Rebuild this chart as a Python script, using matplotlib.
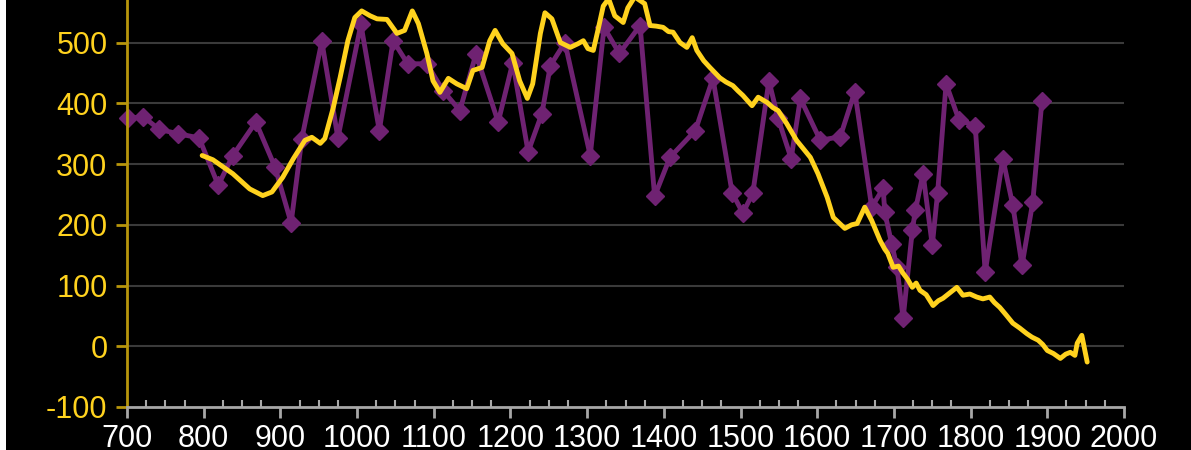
import matplotlib.pyplot as plt
from matplotlib.ticker import MultipleLocator
from matplotlib.patches import Rectangle

# purple series (markers)
purple_x = [701, 721, 742, 766, 794, 819, 838, 868, 893, 914, 928, 954, 975, 1005,
            1029, 1047, 1066, 1091, 1112, 1134, 1155, 1184, 1203, 1223, 1241, 1252,
            1271, 1304, 1322, 1342, 1369, 1388, 1408, 1441, 1464, 1489, 1503, 1516,
            1537, 1549, 1566, 1578, 1604, 1630, 1649, 1671, 1686, 1688, 1697, 1704,
            1712, 1724, 1728, 1738, 1750, 1757, 1768, 1785, 1806, 1819, 1842, 1855,
            1867, 1881, 1893]
purple_y = [375, 378, 357, 350, 343, 265, 314, 369, 295, 203, 342, 502, 343, 530,
            355, 503, 465, 465, 421, 388, 481, 369, 467, 320, 383, 462,
            500, 314, 525, 482, 528, 247, 311, 355, 441, 253, 219, 252,
            437, 375, 309, 408, 339, 345, 419, 229, 260, 221, 169, 130,
            46, 191, 224, 284, 166, 253, 432, 372, 363, 122, 309, 232,
            133, 237, 404]

# yellow series (smooth line)
yellow_x = [798, 812, 838, 860, 877, 889, 903, 917, 932, 941, 952, 958, 969, 978,
            988, 997, 1006, 1017, 1026, 1039, 1052, 1062, 1072, 1080, 1091, 1099,
            1108, 1119, 1130, 1143, 1151, 1163, 1173, 1180, 1190, 1202, 1212, 1222,
            1229, 1239, 1245, 1254, 1265, 1278, 1288, 1295, 1301, 1308, 1314, 1321,
            1328, 1336, 1347, 1353, 1362, 1375, 1382, 1390, 1399, 1406, 1412, 1421,
            1430, 1437, 1443, 1452, 1460, 1473, 1481, 1490, 1497, 1503, 1515, 1523,
            1535, 1542, 1549, 1560, 1573, 1591, 1601, 1613, 1621, 1636, 1645, 1652,
            1662, 1671, 1682, 1688, 1692, 1699, 1706, 1712, 1718, 1724, 1729, 1734,
            1742, 1751, 1758, 1764, 1773, 1782, 1790, 1799, 1808, 1816, 1825, 1831,
            1838, 1846, 1855, 1864, 1873, 1880, 1888, 1894, 1900, 1908, 1917, 1924,
            1930, 1936, 1939, 1945, 1949, 1952]
yellow_y = [314, 307, 284, 259, 248, 254, 278, 309, 339, 344, 334, 342, 393, 443,
            503, 541, 552, 544, 539, 538, 515, 520, 552, 531, 482, 437,
            418, 441, 432, 424, 454, 459, 503, 520, 498, 482, 437, 408,
            432, 515, 549, 539, 500, 492, 498, 503, 490, 487, 520, 560,
            572, 544, 533, 557, 575, 564, 528, 527, 525, 518, 517, 500,
            492, 508, 487, 470, 459, 442, 435, 429, 420, 413, 396, 410,
            401, 393, 388, 367, 339, 311, 284, 245, 212, 194, 200, 202,
            229, 207, 174, 160, 153, 130, 132, 120, 110, 97, 104, 92,
            85, 67, 75, 79, 88, 97, 84, 86, 81, 78, 81, 72,
            64, 52, 38, 30, 21, 15, 10, 3, -7, -12, -20, -13,
            -10, -15, 5, 18, -7, -26]

yellow = '#ffd21e'
purple = '#6f2272'
spine_yellow = '#b8960c'
grey = '#a8a8a8'

plt.rcParams['font.family'] = ['Liberation Sans', 'DejaVu Sans']
plt.rcParams['axes.unicode_minus'] = False

fig = plt.figure(figsize=(11.91, 4.5), dpi=100, facecolor='black')
ax = fig.add_axes([127 / 1191, 43 / 450, 997 / 1191, 407 / 450])
ax.set_facecolor('black')
fig.patches.append(Rectangle((0, 0), 6 / 1191, 1, transform=fig.transFigure,
                             facecolor='white', edgecolor='none'))

for yv in range(0, 600, 100):
    ax.axhline(yv, color='#3a3a3a', lw=1.5, zorder=0)

ax.plot(purple_x, purple_y, color=purple, lw=3.5, marker='D', ms=9,
        markeredgecolor=purple, zorder=2, clip_on=False)
ax.plot(yellow_x, yellow_y, color=yellow, lw=3.5, solid_joinstyle='round',
        solid_capstyle='round', zorder=3)

ax.set_xlim(700, 2000)
ax.set_ylim(-100, 570)
ax.xaxis.set_major_locator(MultipleLocator(100))
ax.xaxis.set_minor_locator(MultipleLocator(25))
ax.yaxis.set_major_locator(MultipleLocator(100))

for s in ['top', 'right']:
    ax.spines[s].set_visible(False)
ax.spines['left'].set_color(spine_yellow)
ax.spines['left'].set_linewidth(2)
ax.spines['bottom'].set_color(grey)
ax.spines['bottom'].set_linewidth(2)

ax.tick_params(axis='y', colors=spine_yellow, labelcolor=yellow, labelsize=22,
               length=8, width=2, direction='out', pad=6)
ax.tick_params(axis='x', which='major', colors=grey, labelcolor='white', labelsize=22,
               length=8, width=2, direction='out', pad=4)
ax.tick_params(axis='x', which='minor', colors=grey, length=5, width=1.5,
               direction='in')

fig.savefig('out.png', dpi=100, facecolor='black')
